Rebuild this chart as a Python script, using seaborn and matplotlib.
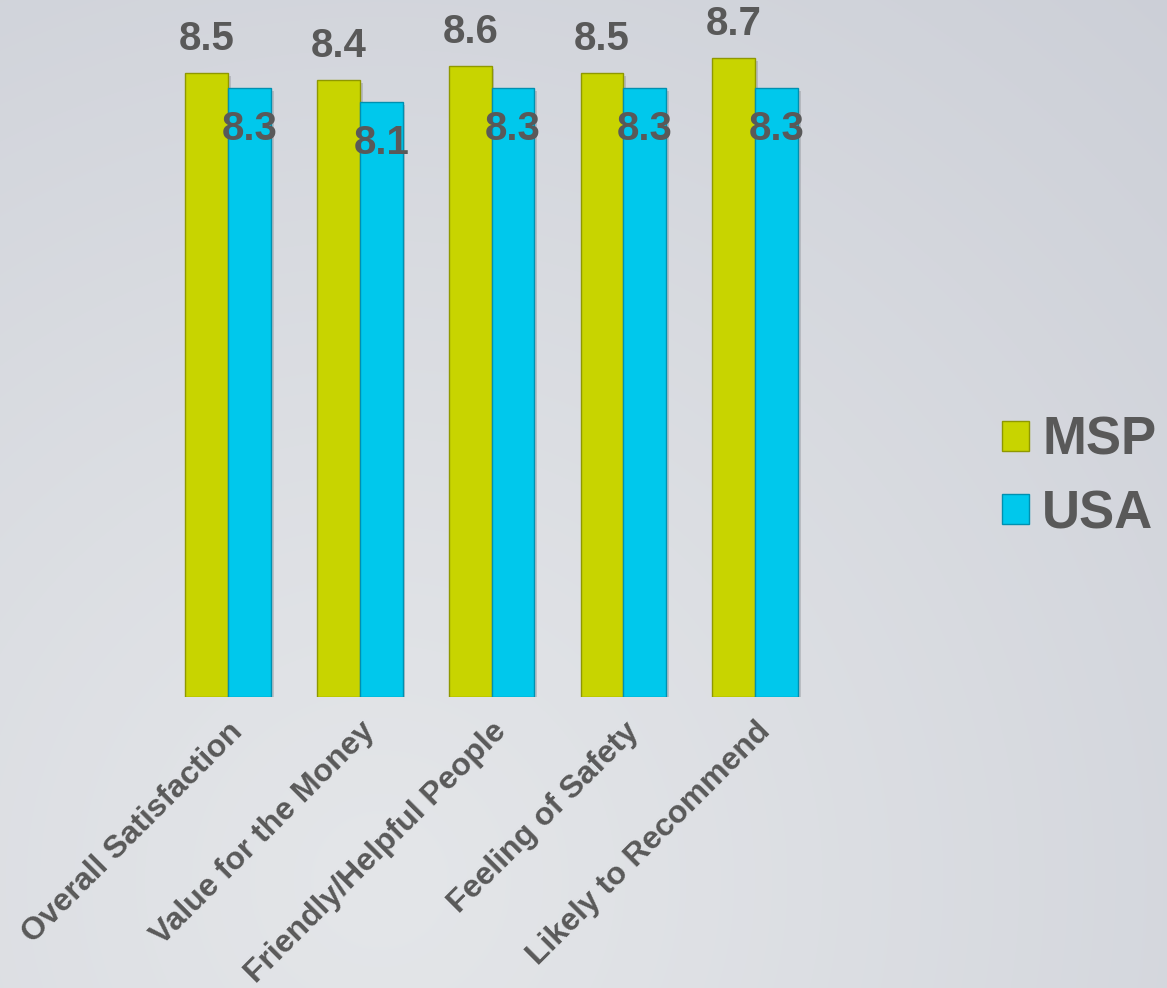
import numpy as np
import pandas as pd
import matplotlib
matplotlib.use("Agg")
import matplotlib.pyplot as plt
import matplotlib.patheffects as pe
from matplotlib.patches import Patch
import seaborn as sns

# Survey scores (0-10 scale)
categories = ["Overall Satisfaction", "Value for the Money", "Friendly/Helpful People",
              "Feeling of Safety", "Likely to Recommend"]
msp_scores = [8.5, 8.4, 8.6, 8.5, 8.7]
usa_scores = [8.3, 8.1, 8.3, 8.3, 8.3]
series_names = ["MSP", "USA"]

palette = {"MSP": "#c8d400", "USA": "#00c8ec"}
edge_colors = {"MSP": "#8f9800", "USA": "#0090b0"}
text_color = "#595959"

df = pd.DataFrame({
    "category": categories * 2,
    "series": [series_names[0]] * len(categories) + [series_names[1]] * len(categories),
    "score": msp_scores + usa_scores,
})

sns.set_theme(style="white")
plt.rcParams["font.family"] = ["Liberation Sans", "DejaVu Sans"]

fig = plt.figure(figsize=(11.67, 9.88), dpi=100)

# soft grey backdrop, lighter toward the lower left / middle
bg = fig.add_axes([0, 0, 1, 1], zorder=-10)
h, w = 988, 1167
yy, xx = np.mgrid[0:h, 0:w]
d = np.sqrt((xx - 380) ** 2 + (yy - 880) ** 2) / 1200.0
d = np.clip(d, 0, 1) ** 1.1
light = np.array([228, 230, 233]) / 255.0
dark = np.array([204, 207, 215]) / 255.0
img = light[None, None, :] * (1 - d[..., None]) + dark[None, None, :] * d[..., None]
bg.imshow(img, aspect="auto", extent=[0, 1, 0, 1], origin="upper")
bg.axis("off")

ax = fig.add_axes([0.139, 1 - 697 / 988, 0.7035 - 0.139, (697 - 36.4) / 988])
ax.patch.set_alpha(0)

sns.barplot(data=df, x="category", y="score", hue="series", palette=palette,
            width=0.65, gap=0, ax=ax, legend=False, saturation=1)

ax.set_ylim(0, 9)
ax.set_xlim(-0.5, len(categories) - 0.5)
ax.set_xlabel("")
ax.set_ylabel("")
ax.set_yticks([])
for s in ax.spines.values():
    s.set_visible(False)

shadow = [pe.SimplePatchShadow(offset=(2, -2), shadow_rgbFace="#7f8288", alpha=0.35), pe.Normal()]
for name, container in zip(series_names, ax.containers):
    for bar in container:
        bar.set_edgecolor(edge_colors[name])
        bar.set_linewidth(1.0)
        bar.set_path_effects(shadow)

# value labels: MSP above the bar, USA just inside its top
for name, container, values in zip(series_names, ax.containers, [msp_scores, usa_scores]):
    offset = 24.5 if name == "MSP" else -29.5
    for bar, v in zip(container, values):
        ax.annotate(f"{v:.1f}", xy=(bar.get_x() + bar.get_width() / 2, v),
                    xytext=(0, offset), textcoords="offset points",
                    ha="center", va="center", fontsize=29, fontweight="bold",
                    color=text_color, annotation_clip=False, zorder=5)

ax.tick_params(axis="x", length=0, pad=14)
ax.set_xticks(range(len(categories)))
ax.set_xticklabels(categories, rotation=45, ha="right", rotation_mode="anchor",
                   fontsize=23, fontweight="bold", color=text_color)

handles = [Patch(facecolor=palette[n], edgecolor=edge_colors[n], linewidth=1.0) for n in series_names]
fig.legend(handles, series_names, loc="center left", bbox_to_anchor=(0.859, 0.517),
           frameon=False, handlelength=0.5, handleheight=0.5,
           handletextpad=0.25, labelspacing=0.45, borderpad=0, borderaxespad=0,
           prop={"weight": "bold", "size": 38})
for t in fig.legends[0].get_texts():
    t.set_color(text_color)

fig.savefig("out.png", dpi=100)
